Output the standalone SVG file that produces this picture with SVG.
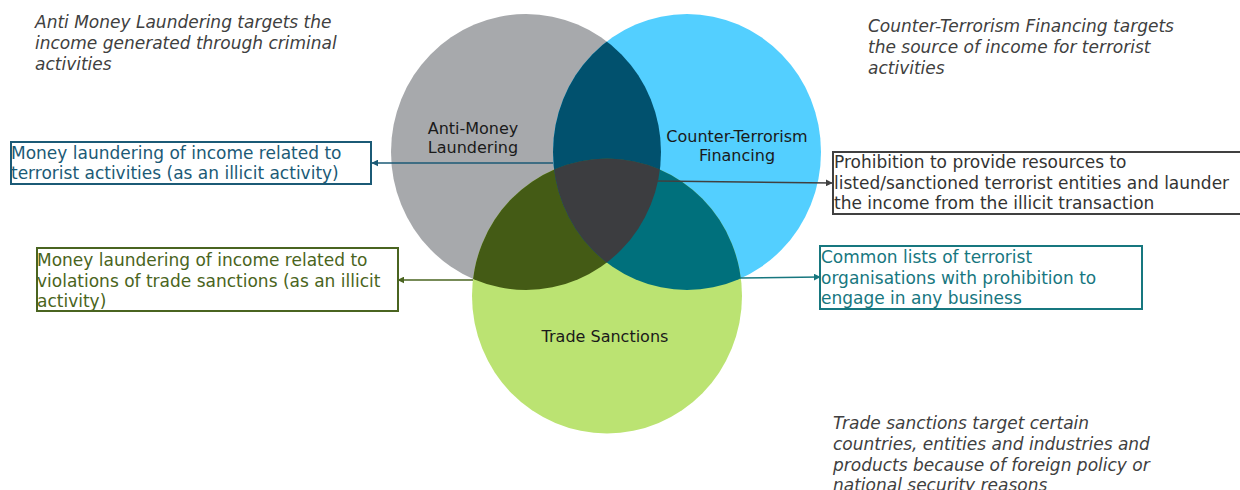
<svg xmlns="http://www.w3.org/2000/svg" width="1240" height="490" viewBox="0 0 1240 490">
<style>
.lbl{font-family:"DejaVu Sans","Verdana",sans-serif;font-size:16px;fill:#1a1a1a;text-anchor:middle}
.note{font-family:"DejaVu Sans","Verdana",sans-serif;font-size:17px;font-style:italic;fill:#404040}
.bt{font-family:"DejaVu Sans","Verdana",sans-serif;font-size:17px}
.box{fill:#ffffff;stroke-width:2}
.con{fill:none;stroke-width:1.5}
</style>
<defs>
<clipPath id="cGray"><ellipse cx="526" cy="152" rx="135" ry="138"/></clipPath>
<clipPath id="cBlue"><ellipse cx="687" cy="152" rx="134" ry="138"/></clipPath>
<marker id="aNavy" viewBox="0 0 10 10" refX="9" refY="5" markerWidth="7" markerHeight="7" orient="auto-start-reverse" markerUnits="userSpaceOnUse"><path d="M0,0L10,5L0,10z" fill="#1b5a76"/></marker>
<marker id="aGray" viewBox="0 0 10 10" refX="9" refY="5" markerWidth="7" markerHeight="7" orient="auto-start-reverse" markerUnits="userSpaceOnUse"><path d="M0,0L10,5L0,10z" fill="#404040"/></marker>
<marker id="aOlive" viewBox="0 0 10 10" refX="9" refY="5" markerWidth="7" markerHeight="7" orient="auto-start-reverse" markerUnits="userSpaceOnUse"><path d="M0,0L10,5L0,10z" fill="#4a6420"/></marker>
<marker id="aTeal" viewBox="0 0 10 10" refX="9" refY="5" markerWidth="7" markerHeight="7" orient="auto-start-reverse" markerUnits="userSpaceOnUse"><path d="M0,0L10,5L0,10z" fill="#17777f"/></marker>
</defs>
<rect width="1240" height="490" fill="#ffffff"/>

<g id="venn">
<g id="node-aml"><ellipse cx="526" cy="152" rx="135" ry="138" fill="#a7a9ac"/></g>
<g id="node-ctf"><ellipse cx="687" cy="152" rx="134" ry="138" fill="#53cfff"/></g>
<g id="node-ts"><ellipse cx="607" cy="296" rx="135" ry="137.5" fill="#bbe372"/></g>
<g id="overlap-aml-ctf" clip-path="url(#cGray)"><ellipse cx="687" cy="152" rx="134" ry="138" fill="#01516e"/></g>
<g id="overlap-aml-ts" clip-path="url(#cGray)"><ellipse cx="607" cy="296" rx="135" ry="137.5" fill="#445b15"/></g>
<g id="overlap-ctf-ts" clip-path="url(#cBlue)"><ellipse cx="607" cy="296" rx="135" ry="137.5" fill="#00707c"/></g>
<g id="overlap-all" clip-path="url(#cGray)"><g clip-path="url(#cBlue)"><ellipse cx="607" cy="296" rx="135" ry="137.5" fill="#3c3d40"/></g></g>
<text class="lbl" x="473" y="134">Anti-Money</text>
<text class="lbl" x="473" y="153">Laundering</text>
<text class="lbl" x="737" y="142">Counter-Terrorism</text>
<text class="lbl" x="737" y="161">Financing</text>
<text class="lbl" x="605" y="342">Trade Sanctions</text>
</g>

<g id="connectors">
<path class="con" d="M553,163 L372,163" stroke="#1b5a76" marker-end="url(#aNavy)"/>
<path class="con" d="M657,181 L832,183" stroke="#404040" marker-end="url(#aGray)"/>
<path class="con" d="M473,280 L398,280" stroke="#4a6420" marker-end="url(#aOlive)"/>
<path class="con" d="M740,278 L820,277" stroke="#17777f" marker-end="url(#aTeal)"/>
</g>

<g id="box-aml-ctf">
<rect class="box" x="11" y="142" width="360" height="42" stroke="#1b5a76"/>
<text class="bt" fill="#1b5a76"><tspan x="11" y="159">Money laundering of income related to</tspan><tspan x="11" y="179">terrorist activities (as an illicit activity)</tspan></text>
</g>
<g id="box-ctf">
<rect class="box" x="833" y="152" width="420" height="62" stroke="#404040" stroke-width="1.5"/>
<text class="bt" fill="#333333"><tspan x="834" y="168">Prohibition to provide resources to</tspan><tspan x="834" y="189">listed/sanctioned terrorist entities and launder</tspan><tspan x="834" y="209">the income from the illicit transaction</tspan></text>
</g>
<g id="box-aml-ts">
<rect class="box" x="37" y="248" width="361" height="63" stroke="#4a6420"/>
<text class="bt" fill="#4a6420"><tspan x="37" y="266">Money laundering of income related to</tspan><tspan x="37" y="287">violations of trade sanctions (as an illicit</tspan><tspan x="37" y="307">activity)</tspan></text>
</g>
<g id="box-ctf-ts">
<rect class="box" x="820" y="246" width="322" height="63" stroke="#17777f"/>
<text class="bt" fill="#17777f"><tspan x="821" y="263">Common lists of terrorist</tspan><tspan x="821" y="284">organisations with prohibition to</tspan><tspan x="821" y="304">engage in any business</tspan></text>
</g>

<g id="note-aml">
<text class="note"><tspan x="35" y="28">Anti Money Laundering targets the</tspan><tspan x="35" y="49">income generated through criminal</tspan><tspan x="35" y="70">activities</tspan></text>
</g>
<g id="note-ctf">
<text class="note"><tspan x="868" y="32">Counter-Terrorism Financing targets</tspan><tspan x="868" y="53">the source of income for terrorist</tspan><tspan x="868" y="74">activities</tspan></text>
</g>
<g id="note-ts">
<text class="note"><tspan x="833" y="429">Trade sanctions target certain</tspan><tspan x="833" y="450">countries, entities and industries and</tspan><tspan x="833" y="471">products because of foreign policy or</tspan><tspan x="833" y="491">national security reasons</tspan></text>
</g>
</svg>
